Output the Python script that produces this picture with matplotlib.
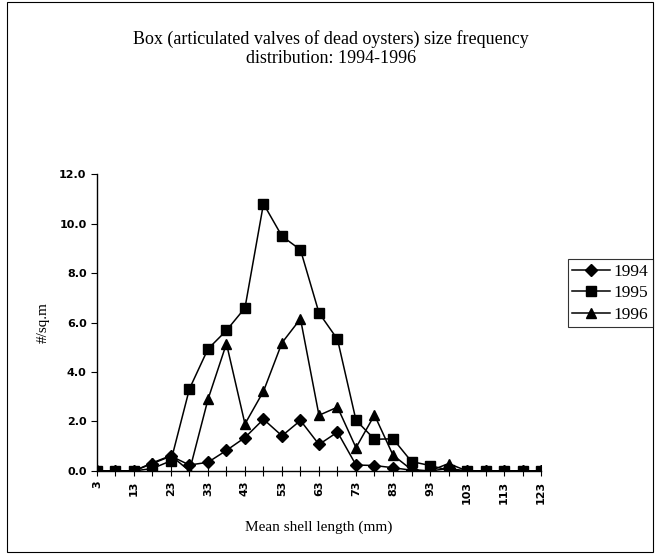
import matplotlib
matplotlib.use("Agg")
import matplotlib.pyplot as plt
from matplotlib.patches import Rectangle

sizes = [3, 8, 13, 18, 23, 28, 33, 38, 43, 48, 53, 58, 63, 68, 73, 78, 83, 88, 93, 98, 103, 108, 113, 118, 123]
y1994 = [0, 0, 0, 0.3, 0.6, 0.24, 0.35, 0.83, 1.35, 2.09, 1.42, 2.04, 1.07, 1.57, 0.24, 0.22, 0.13, 0.03, 0, 0.1, 0, 0, 0, 0, 0]
y1995 = [0, 0, 0, 0.1, 0.41, 3.32, 4.93, 5.68, 6.59, 10.8, 9.49, 8.94, 6.39, 5.32, 2.05, 1.28, 1.3, 0.38, 0.22, 0.03, 0, 0, 0, 0, 0]
y1996 = [0, 0, 0, 0.33, 0.62, 0, 2.89, 5.15, 1.9, 3.22, 5.18, 6.15, 2.25, 2.58, 0.94, 2.26, 0.64, 0.05, 0, 0.3, 0, 0, 0, 0, 0]
yticks = [0, 2, 4, 6, 8, 10, 12]

serif = "Liberation Serif"
fig = plt.figure(figsize=(6.55, 5.58), dpi=100)
fig.patches.append(Rectangle((0.011, 0.01), 0.986, 0.986, transform=fig.transFigure,
                             fill=False, lw=0.8, ec="black"))
ax = fig.add_axes([0.148, 0.156, 0.678, 0.532])
x = list(range(len(sizes)))
ax.plot(x, y1994, color="black", lw=1.1, marker="D", ms=6, label="1994")
ax.plot(x, y1995, color="black", lw=1.1, marker="s", ms=7.5, label="1995")
ax.plot(x, y1996, color="black", lw=1.1, marker="^", ms=7.5, label="1996")

ax.set_xlim(0, len(sizes) - 1)
ax.set_ylim(0, 12)
ax.set_yticks(yticks)
ax.set_yticklabels([f"{v:.1f}" for v in yticks], fontsize=8, fontweight="bold", family="DejaVu Sans")
ax.set_xticks(x)
ax.set_xticklabels([str(s) if i % 2 == 0 else "" for i, s in enumerate(sizes)],
                   rotation=90, fontsize=8, fontweight="bold", family="DejaVu Sans")
ax.tick_params(axis="x", direction="inout", length=7, width=0.8)
ax.tick_params(axis="y", direction="out", length=4, width=0.8)
for s in ["top", "right"]:
    ax.spines[s].set_visible(False)
ax.spines["left"].set_linewidth(1.0)
ax.spines["bottom"].set_linewidth(1.0)

ax.set_ylabel("#/sq.m", family=serif, fontsize=11, labelpad=7)
ax.set_xlabel("Mean shell length (mm)", family=serif, fontsize=11, labelpad=12)
fig.text(0.505, 0.913, "Box (articulated valves of dead oysters) size frequency\ndistribution: 1994-1996",
         ha="center", va="center", family=serif, fontsize=13, linespacing=1.2)

leg = fig.legend(loc="upper left", bbox_to_anchor=(0.867, 0.535), frameon=True, fancybox=False,
                 edgecolor="black", prop={"family": serif, "size": 12.5}, handlelength=2.2,
                 handletextpad=0.2, borderpad=0.25, labelspacing=0.3, borderaxespad=0)
leg.get_frame().set_linewidth(0.8)

fig.savefig("out.png", dpi=100)
